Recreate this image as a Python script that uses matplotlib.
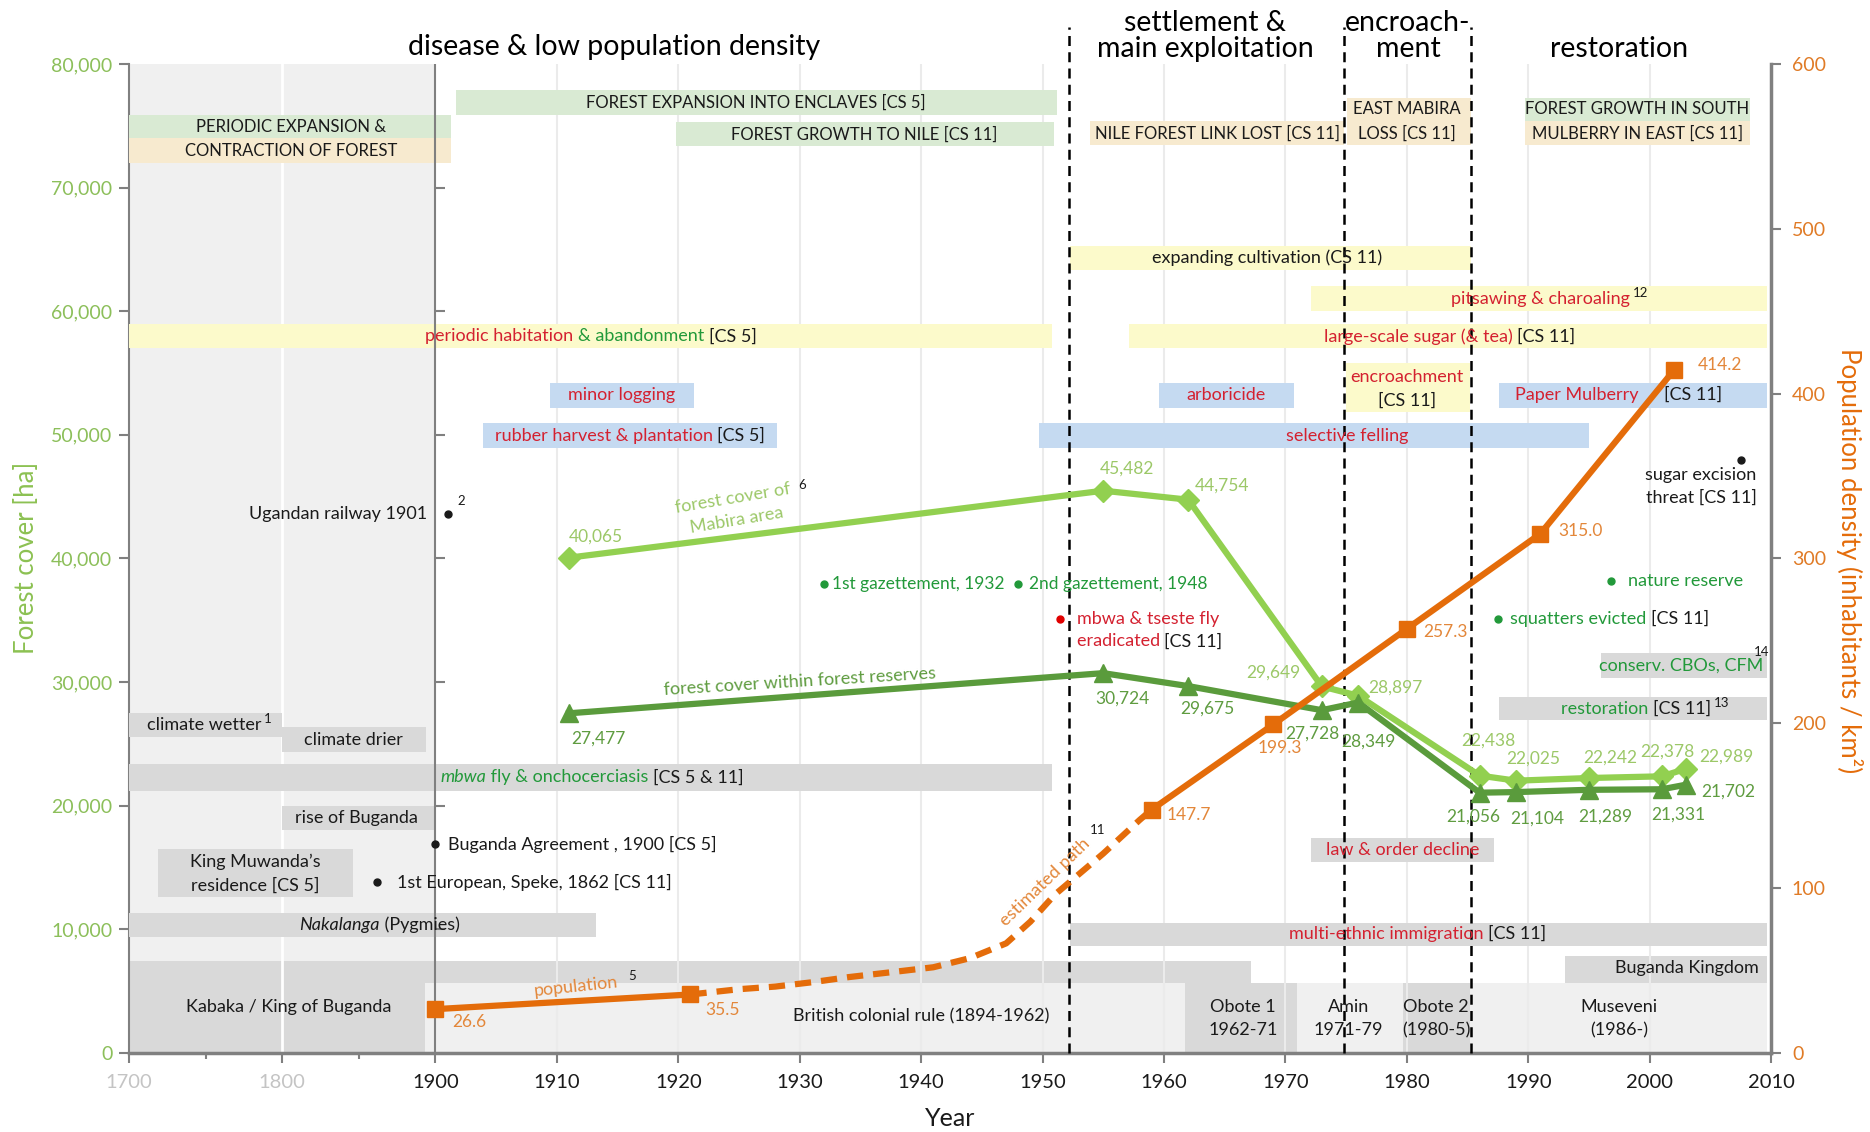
import numpy as np
import matplotlib
matplotlib.use("Agg")
import matplotlib.pyplot as plt
from matplotlib.patches import Rectangle
from matplotlib.transforms import offset_copy

plt.rcParams['font.family'] = ['Lato', 'DejaVu Sans']

# Forest cover [ha]: whole Mabira area and within the forest reserves
forest_years = [1911, 1955, 1962, 1973, 1976, 1986, 1989, 1995, 2001, 2003]
mabira_ha = [40065, 45482, 44754, 29649, 28897, 22438, 22025, 22242, 22378, 22989]
reserve_ha = [27477, 30724, 29675, 27728, 28349, 21056, 21104, 21289, 21331, 21702]

# Population density (inhabitants / km2)
pop_years_early = [1900, 1921]
pop_early = [26.6, 35.5]
pop_years_late = [1959, 1969, 1980, 1991, 2002]
pop_late = [147.7, 199.3, 257.3, 315.0, 414.2]
# estimated path between 1921 and 1959
est_years = [1921, 1925, 1928, 1931, 1934, 1938, 1941, 1944, 1947, 1949, 1951, 1955, 1958, 1959]
est_pop = [35.5, 38.7, 40.3, 42.9, 46.0, 49.4, 52.0, 57.5, 66.5, 79.7, 96.0, 121.0, 141.4, 147.7]

# period boundaries (dashed lines)
period_breaks = [1952.2, 1974.8, 1985.3]

x_ticks = [1700, 1800, 1900, 1910, 1920, 1930, 1940, 1950, 1960, 1970, 1980, 1990, 2000, 2010]
forest_ticks = list(range(0, 80001, 10000))
pop_ticks = list(range(0, 601, 100))

# label offsets in points
mabira_off = [(19, 15), (17, 16), (24, 10), (-35, 10), (27, 6), (6, 25), (12, 16), (15, 15), (4, 18), (29, 9)]
reserve_off = [(21, -18), (14, -18), (14, -16), (-7, -17), (7, -28), (-5, -17), (15, -19), (12, -19), (12, -18), (30, -5)]
pop_early_off = [(24, -9), (23, -11)]
pop_late_off = [(27, -4), (5, -17), (28, -2), (29, 2), (33, 4)]

LGREEN = '#92d050'
LGREEN_TXT = '#9cc868'
DGREEN = '#5a9b3c'
DGREEN_TXT = '#5f9c40'
ORANGE = '#e46c0a'
ORANGE_TXT = '#e3873a'
GREEN_BAR = '#d9ead3'
TAN_BAR = '#f7eacf'
YELLOW_BAR = '#fcfacb'
BLUE_BAR = '#c5daf1'
GRAY_BAR = '#d9d9d9'
LIGHT_BAR = '#f0f0f0'
RED = '#d42130'
GREEN_TXT = '#22993a'
BLACK = '#1a1a1a'
AXIS_GRAY = '#808080'
FS = 13      # running text
FS_CAPS = 12  # upper-case forest dynamics labels
HEAD = 20.5

# 1700-1900 is squeezed into a narrow strip left of 1900
K = 0.1262


def fwd(x):
    x = np.asarray(x, dtype=float)
    return np.where(x < 1900, 1900 + (x - 1900) * K, x)


def inv(x):
    x = np.asarray(x, dtype=float)
    return np.where(x < 1900, 1900 + (x - 1900) / K, x)


fig = plt.figure(figsize=(18.7, 11.32), dpi=100)
ax = fig.add_axes([0.069, 0.0698, 0.8781, 0.8737])
ax.set_xscale('function', functions=(fwd, inv))
ax.set_xlim(1700, 2010)
ax.set_ylim(0, 80000)
ax2 = ax.twinx()
ax2.set_ylim(0, 600)
ax2.set_xlim(1700, 2010)


def bar(x0, x1, y0, y1, color, z=3):
    ax.add_patch(Rectangle((x0, y0), x1 - x0, y1 - y0, facecolor=color,
                           edgecolor='none', zorder=z))


def label(x, y, s, color=BLACK, size=FS, ha='center', **kw):
    return ax.text(x, y, s, color=color, fontsize=size, ha=ha, va='center',
                   zorder=8, **kw)


def rich(x, y, parts, size=FS, ha='center'):
    # several coloured pieces on one baseline
    renderer = fig.canvas.get_renderer()
    first = parts[0]
    t = ax.text(x, y, first[0], color=first[1], fontsize=size, ha='left', va='center',
                style=first[2] if len(first) > 2 else 'normal', zorder=8)
    pieces = [t]
    for p in parts[1:]:
        t = ax.annotate(p[0], xy=(1, 0), xycoords=t, ha='left', va='bottom',
                        color=p[1], fontsize=size,
                        style=p[2] if len(p) > 2 else 'normal', zorder=8)
        pieces.append(t)
    w = sum(p.get_window_extent(renderer).width for p in pieces)
    shift = {'center': -w / 2, 'left': 0, 'right': -w}[ha]
    pieces[0].set_transform(offset_copy(ax.transData, fig=fig, x=shift, y=0, units='dots'))
    return pieces[-1]


def sup(t, s, xy=(1, 0.5), dx=2, dy=0, ha='left'):
    ax.annotate(s, xy=xy, xycoords=t, xytext=(dx, dy), textcoords='offset points',
                fontsize=9.5, color=BLACK, ha=ha, va='bottom', zorder=8)


def dot(x, y, color=BLACK):
    ax.plot([x], [y], 'o', color=color, ms=5, zorder=8)


# background of the compressed pre-1900 section and grid
ax.axvspan(1700, 1900, color=LIGHT_BAR, zorder=0, lw=0)
for yr in range(1910, 2001, 10):
    ax.axvline(yr, color='#ebebeb', lw=1.5, zorder=2)
ax.axvline(1800, color='white', lw=2, zorder=2)
ax.axvline(1900, color=AXIS_GRAY, lw=1.5, zorder=4)
ax.plot(np.full(len(forest_ticks) - 2, 1900), forest_ticks[1:-1], ls='none', marker=1,
        ms=7, mew=1.5, color=AXIS_GRAY, zorder=4)

# rulers along the bottom
bar(1700, 1967.2, 0, 7450, GRAY_BAR, z=1)
bar(1893, 1961.75, 0, 5645, LIGHT_BAR, z=1)
bar(1961.75, 1970.95, 0, 5645, GRAY_BAR, z=1)
bar(1970.95, 1979.7, 0, 5645, LIGHT_BAR, z=1)
bar(1979.7, 1985.2, 0, 5645, GRAY_BAR, z=1)
bar(1985.2, 2009.7, 0, 5645, LIGHT_BAR, z=1)
bar(1993, 2009.7, 5645, 7855, GRAY_BAR, z=1)
label(1804, 3760, 'Kabaka / King of Buganda')
label(1940, 2940, 'British colonial rule (1894-1962)')
label(1966.5, 3750, 'Obote 1')
label(1966.5, 1860, '1962-71')
label(1975.2, 3750, 'Amin')
label(1975.2, 1860, '1971-79')
label(1982.4, 3750, 'Obote 2')
label(1982.4, 1860, '(1980-5)')
label(1997.5, 3750, 'Museveni')
label(1997.5, 1860, '(1986-)')
label(2003.1, 6850, 'Buganda Kingdom')

# forest dynamics
bar(1700, 1901.3, 74010, 75900, GREEN_BAR)
bar(1700, 1901.3, 71990, 74010, TAN_BAR)
label(1805.7, 74900, 'PERIODIC EXPANSION &', size=FS_CAPS)
label(1805.7, 72950, 'CONTRACTION OF FOREST', size=FS_CAPS)
bar(1901.7, 1951.2, 75900, 77870, GREEN_BAR)
label(1926.4, 76880, 'FOREST EXPANSION INTO ENCLAVES [CS 5]', size=FS_CAPS)
bar(1919.8, 1950.9, 73340, 75280, GREEN_BAR)
label(1935.3, 74300, 'FOREST GROWTH TO NILE [CS 11]', size=FS_CAPS)
bar(1953.9, 1974.8, 73480, 75360, TAN_BAR)
label(1964.4, 74400, 'NILE FOREST LINK LOST [CS 11]', size=FS_CAPS)
bar(1975.1, 1985.3, 73480, 77260, TAN_BAR)
label(1980.0, 76330, 'EAST MABIRA', size=FS_CAPS)
label(1980.0, 74400, 'LOSS [CS 11]', size=FS_CAPS)
bar(1989.7, 2008.3, 75360, 77260, GREEN_BAR)
bar(1989.7, 2008.3, 73480, 75360, TAN_BAR)
label(1999.0, 76330, 'FOREST GROWTH IN SOUTH', size=FS_CAPS)
label(1999.0, 74400, 'MULBERRY IN EAST [CS 11]', size=FS_CAPS)

# land use
bar(1952.3, 1985.3, 63300, 65300, YELLOW_BAR)
label(1968.5, 64300, 'expanding cultivation (CS 11)')
bar(1972.1, 2009.7, 60000, 62070, YELLOW_BAR)
t = rich(1991.0, 60990, [('pitsawing & charoaling', RED)])
sup(t, '12')
bar(1700, 1950.8, 57030, 58950, YELLOW_BAR)
rich(1912.8, 57970, [('periodic habitation ', RED), ('& abandonment ', GREEN_TXT), ('[CS 5]', BLACK)])
bar(1957.1, 2009.7, 57030, 58950, YELLOW_BAR)
rich(1983.5, 57970, [('large-scale sugar (& tea) ', RED), ('[CS 11]', BLACK)])
bar(1975.0, 1985.2, 51820, 55780, YELLOW_BAR)
label(1980.0, 54680, 'encroachment', color=RED)
label(1980.0, 52790, '[CS 11]')

# logging
bar(1909.4, 1921.3, 52200, 54230, BLUE_BAR)
label(1915.3, 53220, 'minor logging', color=RED)
bar(1959.6, 1970.7, 52200, 54230, BLUE_BAR)
label(1965.1, 53220, 'arboricide', color=RED)
bar(1987.6, 2009.7, 52200, 54230, BLUE_BAR)
label(1994.0, 53220, 'Paper Mulberry', color=RED)
label(2003.6, 53220, '[CS 11]')
bar(1903.9, 1928.1, 48930, 50950, BLUE_BAR)
rich(1916.0, 49940, [('rubber harvest & plantation ', RED), ('[CS 5]', BLACK)])
bar(1949.7, 1995.0, 48930, 50950, BLUE_BAR)
label(1975.1, 49940, 'selective felling', color=RED)

# climate, disease, people
bar(1700, 1800, 25570, 27500, GRAY_BAR)
t = rich(1749.0, 26540, [('climate wetter', BLACK)])
sup(t, '1')
bar(1800, 1893.8, 24320, 26340, GRAY_BAR)
label(1846.3, 25330, 'climate drier')
bar(1700, 1950.8, 21230, 23350, GRAY_BAR)
rich(1912.9, 22290, [('mbwa', GREEN_TXT, 'italic'), (' fly & onchocerciasis ', GREEN_TXT), ('[CS 5 & 11]', BLACK)])
bar(1800, 1900, 18050, 19980, GRAY_BAR)
label(1848.6, 19010, 'rise of Buganda')
bar(1718.7, 1846.3, 12640, 16500, GRAY_BAR)
label(1782.5, 15440, 'King Muwanda\u2019s')
label(1782.5, 13510, 'residence [CS 5]')
bar(1700, 1913.2, 9360, 11290, GRAY_BAR)
rich(1863.4, 10330, [('Nakalanga', BLACK, 'italic'), (' (Pygmies)', BLACK)])
bar(1972.1, 1987.2, 15440, 17370, GRAY_BAR)
label(1979.7, 16400, 'law & order decline', color=RED)
bar(1952.3, 2009.7, 8670, 10550, GRAY_BAR)
rich(1980.9, 9610, [('multi-ethnic immigration ', RED), ('[CS 11]', BLACK)])
bar(1996.0, 2009.7, 30300, 32330, GRAY_BAR)
t = rich(2002.6, 31310, [('conserv. CBOs, CFM', GREEN_TXT)])
sup(t, '14', xy=(1, 1), dx=4, dy=0, ha='right')
bar(1987.6, 2009.7, 26920, 28760, GRAY_BAR)
t = rich(1998.9, 27840, [('restoration ', GREEN_TXT), ('[CS 11]', BLACK)])
sup(t, '13')

# single events
dot(1901, 43620)
ax.annotate('Ugandan railway 1901', (1901, 43620), xytext=(-15, 0), textcoords='offset points',
            ha='right', va='center', fontsize=FS, color=BLACK, zorder=8)
ax.text(1901.8, 44150, '2', fontsize=9.5, color=BLACK, ha='left', va='bottom', zorder=8)
dot(1900, 16890)
ax.annotate('Buganda Agreement , 1900 [CS 5]', (1900, 16890), xytext=(9, 0),
            textcoords='offset points', ha='left', va='center', fontsize=FS, color=BLACK, zorder=8)
dot(1862, 13800)
ax.annotate('1st European, Speke, 1862 [CS 11]', (1862, 13800), xytext=(14, 0),
            textcoords='offset points', ha='left', va='center', fontsize=FS, color=BLACK, zorder=8)
dot(1932, 37920, GREEN_TXT)
ax.annotate('1st gazettement, 1932', (1932, 37920), xytext=(6, 0),
            textcoords='offset points', ha='left', va='center', fontsize=12.5, color=GREEN_TXT, zorder=8)
dot(1948, 37920, GREEN_TXT)
ax.annotate('2nd gazettement, 1948', (1948, 37920), xytext=(8, 0),
            textcoords='offset points', ha='left', va='center', fontsize=12.5, color=GREEN_TXT, zorder=8)
dot(1951.4, 35130, '#e00000')
rich(1952.8, 35130, [('mbwa & tseste fly', RED)], ha='left')
rich(1952.8, 33300, [('eradicated ', RED), ('[CS 11]', BLACK)], ha='left')
dot(2007.5, 48000)
label(2008.8, 46770, 'sugar excision', ha='right')
label(2008.8, 44890, 'threat [CS 11]', ha='right')
dot(1996.8, 38150, GREEN_TXT)
label(1998.2, 38150, 'nature reserve', color=GREEN_TXT, ha='left')
dot(1987.5, 35130, GREEN_TXT)
rich(1988.5, 35130, [('squatters evicted ', GREEN_TXT), ('[CS 11]', BLACK)], ha='left')

# period boundaries and headings
for xb in period_breaks:
    ax.plot([xb, xb], [0, 83000], color='black', lw=1.8, ls=(0, (4, 2.5)), zorder=5,
            clip_on=False)
ax.text(1914.7, 81350, 'disease & low population density', ha='center', va='center', fontsize=HEAD)
ax.text(1963.4, 83320, 'settlement &', ha='center', va='center', fontsize=HEAD)
ax.text(1963.4, 81170, 'main exploitation', ha='center', va='center', fontsize=HEAD)
ax.text(1980.1, 83320, 'encroach-', ha='center', va='center', fontsize=HEAD)
ax.text(1980.1, 81170, 'ment', ha='center', va='center', fontsize=HEAD)
ax.text(1997.5, 81170, 'restoration', ha='center', va='center', fontsize=HEAD)

# forest cover series
ax.plot(forest_years, mabira_ha, color=LGREEN, lw=4.5, marker='D', ms=11, zorder=7)
ax.plot(forest_years, reserve_ha, color=DGREEN, lw=4.5, marker='^', ms=13, zorder=7)
for x, v, o in zip(forest_years, mabira_ha, mabira_off):
    ax.annotate(f'{v:,}', (x, v), xytext=o, textcoords='offset points', ha='center',
                va='center', fontsize=12.5, color=LGREEN_TXT, zorder=8)
for x, v, o in zip(forest_years, reserve_ha, reserve_off):
    ax.annotate(f'{v:,}', (x, v), xytext=o, textcoords='offset points', ha='center',
                va='center', fontsize=12.5, color=DGREEN_TXT, zorder=8)
ax.text(1924.5, 44890, 'forest cover of', rotation=9.5, ha='center', va='center',
        fontsize=13, color=LGREEN_TXT, zorder=8, rotation_mode='anchor')
ax.text(1924.8, 43080, 'Mabira area', rotation=9.5, ha='center', va='center',
        fontsize=13, color=LGREEN_TXT, zorder=8, rotation_mode='anchor')
ax.text(1930.2, 45960, '6', fontsize=9.5, color=BLACK, ha='center', va='center', zorder=8)
ax.text(1930, 30050, 'forest cover within forest reserves', rotation=3.5, ha='center',
        va='center', fontsize=13, color=DGREEN_TXT, zorder=8, rotation_mode='anchor')

# population density series (right axis)
ax2.plot(pop_years_early, pop_early, color=ORANGE, lw=4.5, marker='s', ms=11, zorder=7)
ax2.plot(est_years, est_pop, color=ORANGE, lw=4.5, ls=(0, (2.6, 1.6)), zorder=7)
ax2.plot(pop_years_late, pop_late, color=ORANGE, lw=4.5, marker='s', ms=11, zorder=7)
for xs, vs, offs in ((pop_years_early, pop_early, pop_early_off),
                     (pop_years_late, pop_late, pop_late_off)):
    for x, v, o in zip(xs, vs, offs):
        ax2.annotate(f'{v:.1f}', (x, v), xytext=o, textcoords='offset points', ha='center',
                     va='center', fontsize=12.5, color=ORANGE_TXT)
ax2.text(1911.6, 40.3, 'population', rotation=6, ha='center', va='center', fontsize=13,
         color=ORANGE_TXT, rotation_mode='anchor')
ax2.text(1916.2, 46.5, '5', fontsize=9.5, color=BLACK, ha='center', va='center')
ax2.text(1950.2, 103.5, 'estimated path', rotation=44, ha='center', va='center', fontsize=13,
         color=ORANGE_TXT, rotation_mode='anchor')
ax2.text(1954.5, 135.3, '11', fontsize=9.5, color=BLACK, ha='center', va='center')

# axes cosmetics
for a in (ax, ax2):
    a.spines['top'].set_visible(False)
ax.spines['right'].set_visible(False)
ax2.spines['left'].set_visible(False)
ax2.spines['bottom'].set_visible(False)
ax.spines['left'].set_color(AXIS_GRAY)
ax.spines['left'].set_linewidth(1.5)
ax.spines['bottom'].set_color(AXIS_GRAY)
ax.spines['bottom'].set_linewidth(2.5)
ax2.spines['right'].set_color(AXIS_GRAY)
ax2.spines['right'].set_linewidth(2.5)

ax.set_xticks(x_ticks)
ax.set_xticklabels([str(v) for v in x_ticks])
ax.set_xticks([1750, 1850], minor=True)
ax.tick_params(axis='x', which='major', length=7, width=1.5, color=AXIS_GRAY,
               labelsize=14.5, pad=8, labelcolor=BLACK)
ax.tick_params(axis='x', which='minor', length=4, width=1.5, color=AXIS_GRAY)
for tl in ax.get_xticklabels()[:2]:
    tl.set_color('#c4c4c4')
ax.set_yticks(forest_ticks)
ax.set_yticklabels([f'{v:,}' for v in forest_ticks])
ax.tick_params(axis='y', length=7, width=1.5, color=AXIS_GRAY, labelsize=14,
               labelcolor='#8cbf5a', pad=5)
ax2.set_yticks(pop_ticks)
ax2.tick_params(axis='y', length=7, width=1.5, color=AXIS_GRAY, labelsize=14,
                labelcolor='#e07b26', pad=8)

fig.text(27 / 1870, 0.507, 'Forest cover [ha]', rotation=90, ha='center', va='center',
         fontsize=18.5, color='#8cc152')
fig.text(1849 / 1870, 0.505, 'Population density (inhabitants / km\u00b2)', rotation=270,
         ha='center', va='center', fontsize=18.5, color='#e46c0a')
fig.text(0.508, 0.0115, 'Year', ha='center', va='center', fontsize=18, color=BLACK)

fig.savefig('out.png', dpi=100)
